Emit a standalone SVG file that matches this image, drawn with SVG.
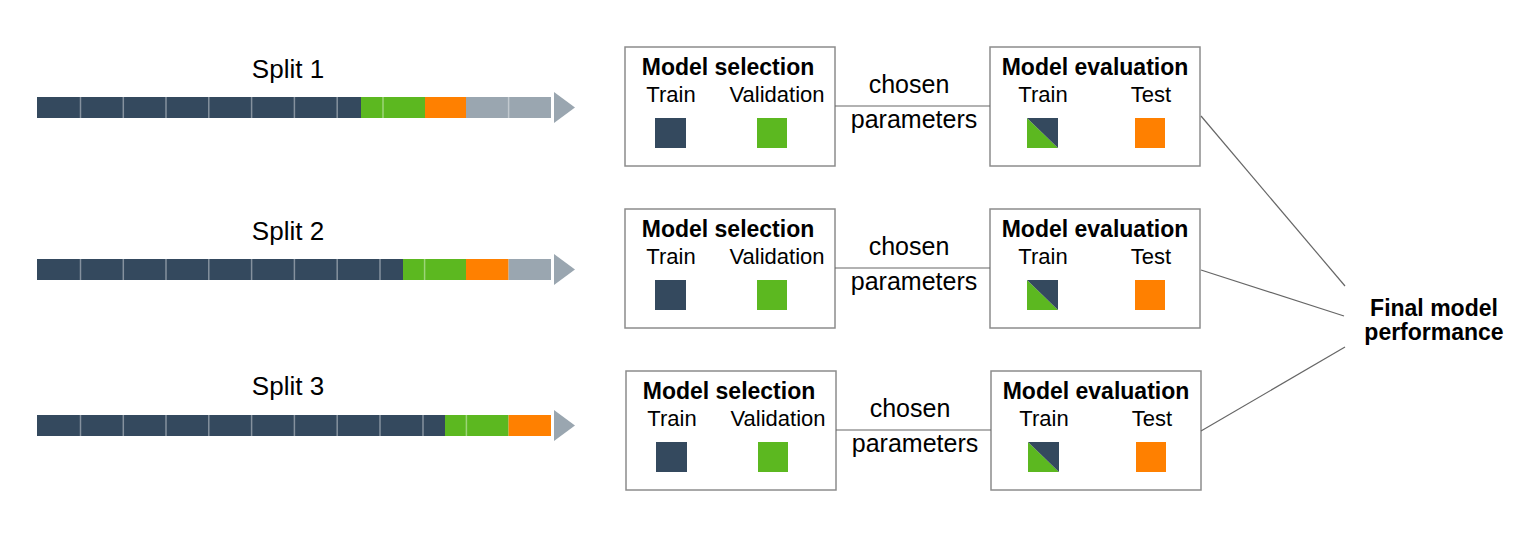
<svg xmlns="http://www.w3.org/2000/svg" width="1536" height="540" viewBox="0 0 1536 540">
<style>
.t{font-family:"Liberation Sans",Arial,sans-serif;fill:#000;text-anchor:middle}
.h{font-size:23px;font-weight:bold}
.n{font-size:22px}
.c{font-size:25px}
.s{font-size:26px}
.box{fill:#fff;stroke:#8c8c8c;stroke-width:1.5}
.dk{fill:#34495e}.gr{fill:#5cb820}.or{fill:#ff8000}.gy{fill:#9aa6b0}
.dv{stroke:#fff;stroke-opacity:0.4;stroke-width:1.5}
.ln{stroke:#666;stroke-width:1.2;fill:none}
</style>
<defs>
<g id="sel">
<rect class="box" x="625" y="47" width="210" height="119"/>
<text class="t h" x="728" y="75">Model selection</text>
<text class="t n" x="671" y="102">Train</text>
<text class="t n" x="777" y="102">Validation</text>
<rect class="dk" x="655" y="118" width="31" height="30"/>
<rect class="gr" x="757" y="118" width="30" height="30"/>
</g>
<g id="eval">
<rect class="box" x="990" y="47" width="210" height="119"/>
<text class="t h" x="1095" y="75">Model evaluation</text>
<text class="t n" x="1043" y="102">Train</text>
<text class="t n" x="1151" y="102">Test</text>
<polygon class="gr" points="1027,118 1058,148 1027,148"/>
<polygon class="dk" points="1027,118 1058,118 1058,148"/>
<rect class="or" x="1135" y="118" width="30" height="30"/>
</g>
</defs>
<g id="split1">
<text class="t s" x="288" y="78">Split 1</text>
<rect class="dk" x="37" y="97" width="324" height="21"/>
<rect class="gr" x="361" y="97" width="64" height="21"/>
<rect class="or" x="425" y="97" width="41" height="21"/>
<rect class="gy" x="466" y="97" width="85" height="21"/>
<g class="dv">
<line x1="80.5" y1="97" x2="80.5" y2="118"/><line x1="123.3" y1="97" x2="123.3" y2="118"/><line x1="166" y1="97" x2="166" y2="118"/><line x1="208.8" y1="97" x2="208.8" y2="118"/><line x1="251.6" y1="97" x2="251.6" y2="118"/><line x1="294.4" y1="97" x2="294.4" y2="118"/><line x1="337.2" y1="97" x2="337.2" y2="118"/><line x1="383" y1="97" x2="383" y2="118"/><line x1="508.6" y1="97" x2="508.6" y2="118"/>
</g>
<polygon class="gy" points="554,92 575,107.5 554,123"/>
</g>
<g id="split2">
<text class="t s" x="288" y="240">Split 2</text>
<rect class="dk" x="37" y="259" width="366" height="21"/>
<rect class="gr" x="403" y="259" width="63" height="21"/>
<rect class="or" x="466" y="259" width="42.6" height="21"/>
<rect class="gy" x="508.6" y="259" width="42.4" height="21"/>
<g class="dv">
<line x1="80.5" y1="259" x2="80.5" y2="280"/><line x1="123.3" y1="259" x2="123.3" y2="280"/><line x1="166" y1="259" x2="166" y2="280"/><line x1="208.8" y1="259" x2="208.8" y2="280"/><line x1="251.6" y1="259" x2="251.6" y2="280"/><line x1="294.4" y1="259" x2="294.4" y2="280"/><line x1="337.2" y1="259" x2="337.2" y2="280"/><line x1="380" y1="259" x2="380" y2="280"/><line x1="424.6" y1="259" x2="424.6" y2="280"/>
</g>
<polygon class="gy" points="554,254 575,269.5 554,285"/>
</g>
<g id="split3">
<text class="t s" x="288" y="395">Split 3</text>
<rect class="dk" x="37" y="415" width="408" height="21"/>
<rect class="gr" x="445" y="415" width="63.6" height="21"/>
<rect class="or" x="508.6" y="415" width="42.4" height="21"/>
<g class="dv">
<line x1="80.5" y1="415" x2="80.5" y2="436"/><line x1="123.3" y1="415" x2="123.3" y2="436"/><line x1="166" y1="415" x2="166" y2="436"/><line x1="208.8" y1="415" x2="208.8" y2="436"/><line x1="251.6" y1="415" x2="251.6" y2="436"/><line x1="294.4" y1="415" x2="294.4" y2="436"/><line x1="337.2" y1="415" x2="337.2" y2="436"/><line x1="380" y1="415" x2="380" y2="436"/><line x1="423" y1="415" x2="423" y2="436"/><line x1="466.4" y1="415" x2="466.4" y2="436"/>
</g>
<polygon class="gy" points="554,410 575,425.5 554,441"/>
</g>
<g id="selection1"><use href="#sel"/></g>
<g id="evaluation1"><use href="#eval"/></g>
<g id="selection2"><use href="#sel" transform="translate(0,162)"/></g>
<g id="evaluation2"><use href="#eval" transform="translate(0,162)"/></g>
<g id="selection3"><use href="#sel" transform="translate(1,324)"/></g>
<g id="evaluation3"><use href="#eval" transform="translate(1,324)"/></g>
<g id="final">
<text class="t h" x="1434" y="316">Final model</text>
<text class="t h" x="1434" y="340">performance</text>
</g>
<g id="connectors">
<line class="ln" x1="835" y1="106" x2="990" y2="106"/>
<line class="ln" x1="835" y1="268" x2="990" y2="268"/>
<line class="ln" x1="836" y1="430" x2="991" y2="430"/>
<line class="ln" x1="1201" y1="116" x2="1345" y2="286"/>
<line class="ln" x1="1201" y1="270" x2="1344" y2="316"/>
<line class="ln" x1="1201" y1="431" x2="1345" y2="347"/>
</g>
<g id="labels">
<text class="t c" x="909" y="93">chosen</text>
<text class="t c" x="914" y="128">parameters</text>
<text class="t c" x="909" y="255">chosen</text>
<text class="t c" x="914" y="290">parameters</text>
<text class="t c" x="910" y="417">chosen</text>
<text class="t c" x="915" y="452">parameters</text>
</g>
</svg>
